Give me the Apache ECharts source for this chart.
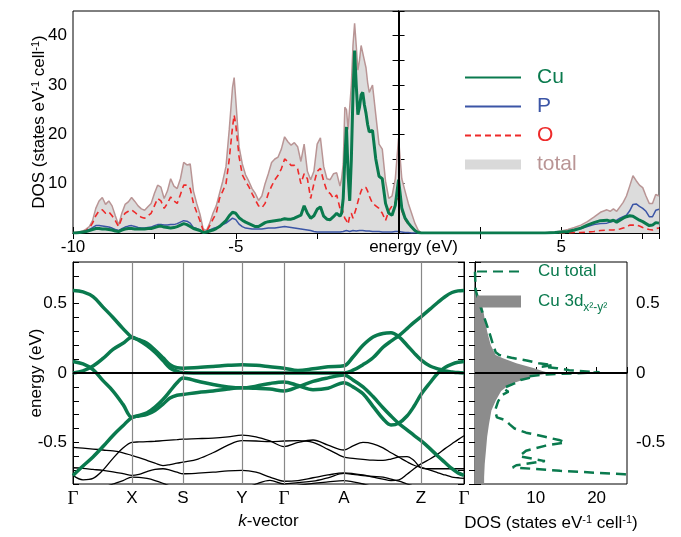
<!DOCTYPE html>
<html>
<head>
<meta charset="utf-8">
<script src="https://cdn.jsdelivr.net/npm/echarts@6/dist/echarts.min.js"></script>
<style>html,body{margin:0;padding:0;background:#fff}#main{width:681px;height:537px}</style>
</head>
<body>
<div id="main"></div>
<script>
// ---- top panel: projected DOS vs energy ----
var eTop = [-10, -9.9, -9.8, -9.7, -9.6, -9.5, -9.4, -9.3, -9.2, -9.1,
  -9.0, -8.9, -8.8, -8.7, -8.6, -8.5, -8.4, -8.3, -8.2, -8.1,
  -8.0, -7.9, -7.8, -7.7, -7.6, -7.5, -7.4, -7.3, -7.2, -7.1,
  -7.0, -6.9, -6.8, -6.7, -6.6, -6.5, -6.4, -6.3, -6.2, -6.1,
  -6.0, -5.9, -5.8, -5.7, -5.6, -5.5, -5.4, -5.3, -5.2, -5.1,
  -5.05,
  -5.0, -4.9, -4.8, -4.7, -4.6, -4.5, -4.4, -4.3, -4.2, -4.1,
  -4.0, -3.9, -3.8, -3.7, -3.6, -3.5, -3.4, -3.3, -3.2, -3.1,
  -3.0, -2.9, -2.8, -2.7, -2.6, -2.5, -2.4, -2.3, -2.2, -2.1,
  -2.0, -1.9, -1.8,
  -1.75, -1.7, -1.65, -1.6, -1.55, -1.5, -1.45, -1.4, -1.35, -1.3, -1.25, -1.2, -1.15, -1.1, -1.05, -1.0, -0.95, -0.9,
  -0.8, -0.7, -0.6, -0.5, -0.4, -0.3, -0.2, -0.1, 0.0, 0.1, 0.2, 0.3, 0.4, 0.5, 0.6, 0.7,
  1.0, 4.0, 4.5,
  4.8, 5.0, 5.2, 5.4, 5.6, 5.8, 6.0, 6.2, 6.4,
  6.5, 6.6, 6.7, 6.8, 6.9, 7.0, 7.1, 7.2, 7.3, 7.4, 7.5, 7.6, 7.7, 7.8, 7.9, 8.0];

var totalDos = [0, 0.2, 0.2, 0.4, 0.8, 1.3, 2.5, 5.0, 6.5, 7.2,
  5.8, 6.5, 5.5, 3.5, 1.6, 4.0, 5.8, 6.3, 7.2, 6.4,
  5.5, 4.9, 4.6, 5.3, 6.0, 8.0, 9.7, 9.3, 7.0, 8.5,
  11.0, 9.5, 9.0, 11.0, 14.3, 13.8, 14.0, 8.5, 6.0, 3.8,
  0.8, 0.5, 2.0, 4.0, 5.5, 8.0, 10.5, 13.5, 21.0, 29.5,
  31.5,
  27.0, 17.5, 14.0, 11.8, 10.5, 9.0, 8.0, 6.6, 7.5, 10.0,
  12.0, 14.3, 15.0, 15.4, 17.0, 19.5, 18.5, 17.8, 18.3, 17.5,
  14.5, 18.0, 12.5, 10.8, 12.5, 18.0, 19.3, 13.5, 11.0, 10.8,
  12.0, 12.2, 9.5,
  11.0, 14.0, 25.5, 25.0, 21.0, 21.0, 30.0, 38.0, 42.5, 38.0, 33.0, 35.0, 38.0, 38.0, 35.0, 33.5, 30.5, 28.5,
  30.0, 24.0, 18.0, 17.0, 10.5, 7.0, 7.5, 11.0, 19.2, 11.0, 8.5, 6.0, 4.0, 2.0, 0.6, 0,
  0, 0, 0,
  0.2, 0.4, 0.7, 1.1, 1.6, 2.3, 3.2, 4.2, 4.7,
  4.4, 4.9, 4.4, 5.3, 6.2, 7.5, 9.5, 11.6, 10.6, 9.7, 9.2, 7.5, 6.0, 6.0, 7.8, 7.5];

var oDos = [0, 0, 0.1, 0.2, 0.5, 1.0, 2.0, 3.5, 4.5, 4.7,
  4.0, 4.3, 3.5, 2.5, 1.3, 3.0, 4.0, 4.4, 4.7, 4.2,
  3.6, 3.2, 3.0, 3.5, 4.0, 5.5, 7.0, 6.5, 5.0, 6.0,
  7.3, 6.5, 6.0, 7.8, 9.7, 9.7, 9.0, 6.0, 4.2, 2.5,
  0.5, 0.3, 1.5, 2.8, 4.0, 7.0, 8.5, 10.0, 15.0, 21.5,
  23.9,
  22.0, 15.5, 11.8, 10.5, 9.4, 8.0, 6.7, 5.5, 5.1, 6.0,
  8.0, 9.5, 10.8, 11.7, 13.0, 15.0, 14.5, 13.7, 13.7, 13.0,
  10.0, 12.0, 11.0, 7.0, 10.0, 12.5, 13.1, 10.5, 8.5, 8.0,
  7.0, 7.7, 5.0,
  5.5, 4.0, 3.0, 2.5, 1.8, 3.5, 4.0, 3.0, 3.0, 5.0, 6.3, 7.5, 8.5, 9.2, 9.4, 9.2, 8.5, 7.5,
  6.0, 5.5, 5.0, 4.0, 2.5, 4.5, 5.5, 6.3, 7.3, 4.5, 2.8, 1.8, 1.2, 0.6, 0.2, 0,
  0, 0, 0,
  0, 0, 0, 0.1, 0.1, 0.2, 0.3, 0.5, 0.6,
  0.6, 0.6, 0.7, 0.8, 1.0, 1.2, 1.6, 1.6, 1.6, 1.4, 1.1, 0.9, 0.7, 0.6, 0.9, 1.0];

var cuDos = [0, 0, 0.1, 0.2, 0.3, 0.5, 0.7, 0.9, 0.9, 0.8,
  0.8, 0.7, 0.6, 0.4, 0.3, 0.6, 0.8, 0.9, 0.9, 0.8,
  0.8, 0.8, 0.8, 0.9, 0.9, 1.1, 1.3, 1.4, 1.2, 1.1,
  1.0, 1.1, 1.3, 1.6, 1.9, 1.7, 1.3, 0.9, 0.7, 0.5,
  0.1, 0.2, 0.4, 0.6, 0.9, 1.3, 1.9, 2.5, 3.5, 4.2,
  4.3,
  4.0, 3.1, 2.6, 2.2, 1.9, 1.6, 1.3, 1.3, 1.7, 2.1,
  2.3, 2.4, 2.5, 2.6, 2.7, 2.9, 2.8, 2.8, 3.0, 3.3,
  3.6, 5.5, 4.0, 3.0, 3.5, 4.8, 5.3, 3.4, 2.8, 2.7,
  3.3, 4.0, 3.4,
  4.0, 7.0, 15.0, 21.5, 12.0, 6.5, 15.0, 28.0, 37.0, 30.0, 24.0, 25.5, 28.0, 28.5, 26.0, 24.3, 22.0, 20.5,
  20.8, 15.0, 11.5, 11.0, 6.0, 4.0, 3.6, 5.6, 10.8, 5.0, 3.0, 2.0, 1.2, 0.5, 0.1, 0,
  0, 0, 0,
  0.1, 0.2, 0.3, 0.6, 1.0, 1.6, 2.1, 2.5, 2.6,
  2.4, 2.6, 2.2, 2.6, 3.0, 3.3, 3.5, 3.4, 3.0, 2.6, 2.3, 1.9, 1.5, 1.6, 2.1, 2.0];

var pDos = [0, 0, 0.1, 0.2, 0.4, 0.7, 1.1, 1.5, 1.5, 1.4,
  1.3, 1.2, 1.0, 0.7, 0.5, 0.9, 1.2, 1.4, 1.5, 1.3,
  1.1, 1.0, 1.0, 1.1, 1.2, 1.5, 1.7, 1.7, 1.6, 1.6,
  1.7, 1.7, 1.9, 2.2, 2.5, 2.4, 2.0, 1.1, 0.9, 0.6,
  0.1, 0.3, 0.6, 0.9, 1.1, 1.4, 1.7, 2.0, 2.5, 3.0,
  3.0,
  2.7, 1.8, 1.3, 1.0, 0.9, 0.8, 0.8, 0.8, 0.8, 0.9,
  1.0, 1.0, 1.0, 1.1, 1.2, 1.3, 1.2, 1.1, 1.0, 0.9,
  0.8, 0.7, 0.6, 0.5, 0.3, 0.2, 0.2, 0.2, 0.2, 0.2,
  0.2, 0.2, 0.2,
  0.2, 0.3, 0.4, 0.5, 0.4, 0.3, 0.4, 0.5, 0.5, 0.4, 0.4, 0.5, 0.5, 0.5, 0.5, 0.4, 0.4, 0.4,
  0.3, 0.3, 0.3, 0.2, 0.2, 0.2, 0.2, 0.3, 0.3, 0.2, 0.1, 0.1, 0, 0, 0, 0,
  0, 0, 0,
  0.1, 0.2, 0.3, 0.6, 0.9, 1.3, 1.7, 1.9, 2.0,
  2.2, 2.4, 2.6, 3.0, 3.3, 3.6, 4.5, 5.8, 5.9, 5.4, 5.0, 4.4, 3.3, 3.3, 4.6, 4.8];

// ---- bottom left: band structure along the k path ----
var kTicks = [0, 59, 110, 169, 211, 271, 348, 391];
var kLabels = ['Γ', 'X', 'S', 'Y', 'Γ', 'A', 'Z', 'Γ'];
var kGrid = [0, 10, 20, 30, 40, 50, 59, 66, 74, 82, 90, 97, 104, 110, 125, 140, 155, 169, 183, 197,
  211, 225, 240, 255, 271, 280, 290, 300, 310, 318, 326, 334, 341, 348, 357, 365, 372, 379, 385, 391];

var bandA = [0.595, 0.585, 0.55, 0.475, 0.40, 0.32, 0.257, 0.24, 0.214, 0.165, 0.11, 0.06, 0.038, 0.035, 0.04, 0.047, 0.055, 0.06, 0.055, 0.045,
  0.035, 0.018, 0.03, 0.045, 0.052, 0.115, 0.20, 0.26, 0.285, 0.29, 0.26, 0.20, 0.145, 0.095, 0.05, 0.03, 0.015, 0.008, 0.003, 0.0];
var bandB = [0.083, 0.065, 0.025, -0.055, -0.13, -0.226, -0.32, -0.305, -0.286, -0.245, -0.19, -0.131, -0.07, -0.036, -0.06, -0.083, -0.10, -0.107, -0.095, -0.075,
  -0.064, -0.09, -0.12, -0.11, -0.07, -0.10, -0.15, -0.24, -0.33, -0.375, -0.36, -0.31, -0.24, -0.155, -0.07, 0.0, 0.04, 0.064, 0.077, 0.083];
var bandC = [0.0, 0.015, 0.05, 0.105, 0.17, 0.214, 0.257, 0.235, 0.198, 0.15, 0.09, 0.036, 0.012, 0.003, 0.0, 0.0, 0.0, 0.0, 0.0, 0.0,
  0.0, 0.0, 0.0, 0.0, 0.0, 0.02, 0.06, 0.11, 0.185, 0.23, 0.27, 0.32, 0.365, 0.405, 0.46, 0.51, 0.55, 0.58, 0.592, 0.595];
var bandD = [-0.738, -0.67, -0.605, -0.53, -0.45, -0.38, -0.32, -0.31, -0.298, -0.27, -0.225, -0.18, -0.16, -0.155, -0.14, -0.13, -0.115, -0.107, -0.11, -0.115,
  -0.13, -0.10, -0.06, -0.035, -0.015, -0.05, -0.10, -0.17, -0.25, -0.31, -0.365, -0.41, -0.45, -0.488, -0.545, -0.60, -0.645, -0.69, -0.72, -0.738];

var black1 = [-0.738, -0.77, -0.76, -0.70, -0.615, -0.54, -0.50, -0.497, -0.495, -0.492, -0.488, -0.484, -0.48, -0.476, -0.473, -0.469, -0.46, -0.448, -0.46, -0.49,
  -0.53, -0.50, -0.483, -0.52, -0.555, -0.525, -0.50, -0.51, -0.54, -0.575, -0.607, -0.64, -0.665, -0.68, -0.70, -0.72, -0.735, -0.75, -0.755, -0.76];
var black2 = [-0.536, -0.542, -0.548, -0.555, -0.562, -0.575, -0.595, -0.61, -0.63, -0.65, -0.667, -0.66, -0.65, -0.643, -0.62, -0.575, -0.52, -0.488, -0.49, -0.495,
  -0.49, -0.488, -0.50, -0.55, -0.607, -0.615, -0.622, -0.628, -0.63, -0.62, -0.605, -0.602, -0.63, -0.683, -0.69, -0.69, -0.69, -0.69, -0.69, -0.69];
var black3 = [-0.683, -0.688, -0.695, -0.702, -0.712, -0.725, -0.738, -0.73, -0.71, -0.695, -0.69, -0.70, -0.715, -0.726, -0.722, -0.715, -0.705, -0.702, -0.715, -0.75,
  -0.78, -0.775, -0.755, -0.735, -0.72, -0.725, -0.735, -0.75, -0.765, -0.775, -0.77, -0.73, -0.69, -0.655, -0.62, -0.583, -0.545, -0.51, -0.48, -0.452];
var black4 = [-0.86, -0.855, -0.845, -0.825, -0.80, -0.775, -0.75, -0.752, -0.76, -0.775, -0.795, -0.815, -0.83, -0.84, -0.86, -0.86, -0.85, -0.84, -0.80, -0.774,
  -0.80, -0.79, -0.78, -0.755, -0.724, -0.73, -0.74, -0.745, -0.75, -0.765, -0.78, -0.80, -0.815, -0.83, -0.84, -0.85, -0.86, -0.86, -0.86, -0.86];
var black5 = [-0.86, -0.86, -0.86, -0.86, -0.86, -0.86, -0.86, -0.86, -0.86, -0.86, -0.86, -0.86, -0.86, -0.86, -0.86, -0.86, -0.86, -0.86, -0.86, -0.84,
  -0.82, -0.81, -0.795, -0.785, -0.775, -0.785, -0.80, -0.82, -0.84, -0.86, -0.86, -0.86, -0.86, -0.86, -0.86, -0.86, -0.86, -0.86, -0.86, -0.86];

// ---- bottom right: Cu DOS near the Fermi level ----
var eCuTot = [0.73, 0.60, 0.49, 0.39, 0.30, 0.20, 0.15, 0.13, 0.11, 0.09, 0.07, 0.057, 0.045, 0.035, 0.02, 0.005,
  -0.01, -0.025, -0.035, -0.05, -0.075, -0.11, -0.135, -0.16, -0.205, -0.27, -0.32, -0.34, -0.37, -0.40, -0.43,
  -0.46, -0.485, -0.50, -0.525, -0.56, -0.60, -0.635, -0.665, -0.68, -0.705, -0.73, -0.75];
var cuTot = [0, 0.1, 0.8, 1.6, 2.3, 3.0, 3.4, 4.0, 6.0, 8.5, 10.5, 12.8, 11.0, 13.5, 15.5, 20.5,
  11.8, 8.5, 9.0, 7.5, 6.5, 4.6, 5.5, 4.4, 3.8, 3.3, 3.6, 5.0, 5.7, 6.5, 8.4,
  11.5, 14.0, 14.8, 11.5, 8.4, 7.3, 11.5, 6.8, 6.2, 14.0, 24.6, 27];
var eD3 = [0.60, 0.49, 0.39, 0.30, 0.20, 0.13, 0.107, 0.07, 0.036, 0.012, 0.0, -0.024, -0.048, -0.083,
  -0.13, -0.20, -0.27, -0.37, -0.46, -0.56, -0.655, -0.75, -0.80];
var d3Dos = [0, 1.2, 1.6, 2.0, 2.6, 3.4, 4.6, 6.8, 9.6, 11.2, 12.3, 9.6, 7.9, 5.7,
  4.3, 3.4, 2.7, 2.3, 2.0, 1.8, 1.6, 1.5, 1.5];

var green = '#0a7a4e';
var font = 'Liberation Sans, Arial, sans-serif';

function pairs(xs, ys) {
  return xs.map(function (x, i) { return [x, ys[i]]; });
}
function swapPairs(es, ds) {
  return es.map(function (e, i) { return [ds[i], e]; });
}

var chart = echarts.init(document.getElementById('main'));

var frameAxis = { lineStyle: { color: '#000', width: 1 } };
var tickIn = { inside: true, length: 6, lineStyle: { color: '#000' } };
var supRich = {
  sup: { fontSize: 11, fontFamily: font, verticalAlign: 'top', padding: [0, 0, 7, 0], color: '#000' }
};

function bandSeries(name, vals, color, width, z) {
  return {
    name: name, type: 'line', xAxisIndex: 2, yAxisIndex: 2,
    data: pairs(kGrid, vals), symbol: 'none', smooth: 0.35, z: z,
    lineStyle: { color: color, width: width }, silent: true
  };
}

var option = {
  animation: false,
  backgroundColor: '#fff',
  textStyle: { fontFamily: font },
  grid: [
    { left: 73, top: 11, width: 586, height: 222, show: true, borderColor: '#000', borderWidth: 1 },
    { left: 73, top: 262, width: 391, height: 222, show: true, borderColor: '#000', borderWidth: 1 },
    { left: 475, top: 262, width: 152, height: 222, show: true, borderColor: '#000', borderWidth: 1 }
  ],
  legend: [
    {
      left: 464, top: 67, orient: 'vertical', itemWidth: 56, itemHeight: 10, itemGap: 8,
      padding: 0,
      itemStyle: { opacity: 0 },
      textStyle: { fontSize: 21, fontFamily: font, padding: [0, 0, 0, 11] },
      data: [
        { name: 'Cu', textStyle: { color: green } },
        { name: 'P', textStyle: { color: '#3b55a6' } },
        { name: 'O', textStyle: { color: '#ee2a2a' } },
        { name: 'total', icon: 'rect', itemStyle: { color: '#d9d9d9', opacity: 1 }, lineStyle: { width: 0 },
          textStyle: { color: '#b99595' } }
      ]
    },
    {
      left: 476, top: 263, orient: 'vertical', itemWidth: 44, itemHeight: 12, itemGap: 13,
      padding: 0,
      itemStyle: { opacity: 0 },
      textStyle: {
        fontSize: 17, fontFamily: font, color: green, padding: [0, 0, 0, 12],
        rich: {
          n: { fontSize: 17, fontFamily: font, color: green },
          s: { fontSize: 12, fontFamily: font, color: green, verticalAlign: 'bottom', padding: [12, 0, 0, 0] }
        }
      },
      formatter: function (name) {
        return name === 'Cu total' ? name : '{n|Cu 3d}{s|x²-y²}';
      },
      data: [
        { name: 'Cu total' },
        { name: 'Cu 3d', icon: 'rect', itemStyle: { color: '#8c8c8c', opacity: 1 } }
      ]
    }
  ],
  xAxis: [
    {
      gridIndex: 0, type: 'value', min: -10, max: 8, interval: 2.5,
      axisLine: frameAxis, axisTick: tickIn, splitLine: { show: false },
      axisLabel: {
        fontSize: 17, color: '#000', fontFamily: font, margin: 6,
        formatter: function (v) {
          if (v === 0) return '{e|energy (eV)}';
          return (v === -10 || v === -5 || v === 5) ? String(v) : '';
        },
        rich: { e: { fontSize: 17, fontFamily: font, color: '#000', padding: [0, 0, 0, 30] } }
      }
    },
    {
      gridIndex: 0, type: 'value', position: 'top', min: -10, max: 8, interval: 2.5,
      axisLine: frameAxis, axisTick: tickIn, axisLabel: { show: false }, splitLine: { show: false }
    },
    {
      gridIndex: 1, type: 'value', min: 0, max: 391,
      name: '{i|k}-vector', nameLocation: 'middle', nameGap: 29, nameMoveOverlap: false,
      nameTextStyle: {
        fontSize: 17, color: '#000', fontFamily: font,
        rich: { i: { fontSize: 17, fontStyle: 'italic', fontFamily: font, color: '#000' } }
      },
      axisLine: frameAxis, axisTick: { show: false }, splitLine: { show: false },
      axisLabel: {
        customValues: kTicks, fontSize: 17, color: '#000', margin: 6,
        formatter: function (v) {
          var lab = kLabels[kTicks.indexOf(v)] || '';
          return lab === 'Γ' ? '{g|Γ}' : lab;
        },
        rich: { g: { fontSize: 19, fontFamily: 'Liberation Serif, DejaVu Serif, serif', color: '#000' } }
      }
    },
    {
      gridIndex: 2, type: 'value', min: 0, max: 25, interval: 5,
      name: 'DOS (states eV{sup|-1} cell{sup|-1})', nameLocation: 'middle', nameGap: 30, nameMoveOverlap: false,
      nameTextStyle: { fontSize: 17, color: '#000', fontFamily: font, rich: supRich },
      axisLine: frameAxis, axisTick: tickIn, splitLine: { show: false },
      axisLabel: {
        fontSize: 17, color: '#000', margin: 6,
        formatter: function (v) { return (v === 10 || v === 20) ? String(v) : ''; }
      }
    }
  ],
  yAxis: [
    {
      gridIndex: 0, type: 'value', min: 0, max: 45, interval: 5,
      name: 'DOS (states eV{sup|-1} cell{sup|-1})', nameLocation: 'middle', nameGap: 25, nameMoveOverlap: false,
      nameTextStyle: { fontSize: 17, color: '#000', fontFamily: font, rich: supRich },
      axisLine: frameAxis, axisTick: tickIn, splitLine: { show: false },
      axisLabel: {
        fontSize: 17, color: '#000', margin: 6,
        formatter: function (v) { return (v > 0 && v % 10 === 0) ? String(v) : ''; }
      }
    },
    {
      gridIndex: 0, type: 'value', position: 'right', min: 0, max: 45, interval: 5,
      axisLine: frameAxis, axisTick: tickIn, axisLabel: { show: false }, splitLine: { show: false }
    },
    {
      gridIndex: 1, type: 'value', min: -0.8, max: 0.8, interval: 0.1,
      name: 'energy (eV)', nameLocation: 'middle', nameGap: 28, nameMoveOverlap: false,
      nameTextStyle: { fontSize: 17, color: '#000', fontFamily: font },
      axisLine: frameAxis, axisTick: tickIn, splitLine: { show: false },
      axisLabel: {
        fontSize: 17, color: '#000', margin: 6,
        formatter: function (v) {
          var h = Math.round(v * 2);
          return Math.abs(v * 2 - h) < 1e-6 ? String(h / 2) : '';
        }
      }
    },
    {
      gridIndex: 1, type: 'value', position: 'right', min: -0.8, max: 0.8, interval: 0.1,
      axisLine: frameAxis, axisTick: tickIn, axisLabel: { show: false }, splitLine: { show: false }
    },
    {
      gridIndex: 2, type: 'value', position: 'right', min: -0.8, max: 0.8, interval: 0.1,
      axisLine: frameAxis, axisTick: tickIn, splitLine: { show: false },
      axisLabel: {
        fontSize: 17, color: '#000', margin: 9,
        formatter: function (v) {
          var h = Math.round(v * 2);
          return Math.abs(v * 2 - h) < 1e-6 ? String(h / 2) : '';
        }
      }
    },
    {
      gridIndex: 2, type: 'value', position: 'left', min: -0.8, max: 0.8, interval: 0.1,
      axisLine: frameAxis, axisTick: tickIn, axisLabel: { show: false }, splitLine: { show: false }
    }
  ],
  series: [
    {
      name: 'total', type: 'line', xAxisIndex: 0, yAxisIndex: 0, z: 1,
      data: pairs(eTop, totalDos), symbol: 'none',
      lineStyle: { color: '#b99595', width: 1.5 },
      itemStyle: { color: '#b99595' },
      areaStyle: { color: '#dcdcdc', opacity: 1 },
      markLine: {
        silent: true, symbol: ['none', 'none'], label: { show: false },
        lineStyle: { color: '#000', width: 2, type: 'solid' },
        data: [{ xAxis: 0 }]
      }
    },
    {
      name: 'O', type: 'line', xAxisIndex: 0, yAxisIndex: 0, z: 2,
      data: pairs(eTop, oDos), symbol: 'none',
      lineStyle: { color: '#ee2a2a', width: 1.6, type: [6, 4] },
      itemStyle: { color: '#ee2a2a' }
    },
    {
      name: 'P', type: 'line', xAxisIndex: 0, yAxisIndex: 0, z: 3,
      data: pairs(eTop, pDos), symbol: 'none',
      lineStyle: { color: '#3b55a6', width: 1.5 },
      itemStyle: { color: '#3b55a6' }
    },
    {
      name: 'Cu', type: 'line', xAxisIndex: 0, yAxisIndex: 0, z: 4,
      data: pairs(eTop, cuDos), symbol: 'none',
      lineStyle: { color: green, width: 3 },
      itemStyle: { color: green }
    },

    bandSeries('k1', black1, '#000', 1.3, 2),
    bandSeries('k2', black2, '#000', 1.3, 2),
    bandSeries('k3', black3, '#000', 1.3, 2),
    bandSeries('k4', black4, '#000', 1.3, 2),
    bandSeries('k5', black5, '#000', 1.3, 2),
    bandSeries('bD', bandD, green, 3.5, 3),
    bandSeries('bB', bandB, green, 3.5, 3),
    bandSeries('bC', bandC, green, 3.5, 3),
    {
      name: 'bA', type: 'line', xAxisIndex: 2, yAxisIndex: 2, z: 3,
      data: pairs(kGrid, bandA), symbol: 'none', smooth: 0.35, silent: true,
      lineStyle: { color: green, width: 3.5 },
      markLine: {
        silent: true, symbol: ['none', 'none'], label: { show: false },
        data: kTicks.slice(1, -1).map(function (k) {
          return { xAxis: k, lineStyle: { color: '#888', width: 1.2, type: 'solid' } };
        }).concat([{ yAxis: 0, lineStyle: { color: '#000', width: 2, type: 'solid' } }])
      }
    },

    {
      name: 'Cu 3d', type: 'custom', xAxisIndex: 3, yAxisIndex: 4, z: 1,
      itemStyle: { color: '#8c8c8c' },
      encode: { x: 0, y: 1 },
      data: swapPairs(eD3, d3Dos),
      renderItem: function (params, api) {
        if (params.dataIndex !== 0) return null;
        var pts = [api.coord([0, eD3[0]])];
        for (var i = 0; i < eD3.length; i++) pts.push(api.coord([d3Dos[i], eD3[i]]));
        pts.push(api.coord([0, eD3[eD3.length - 1]]));
        return { type: 'polygon', shape: { points: pts }, style: { fill: '#8c8c8c' } };
      }
    },
    {
      name: 'Cu total', type: 'line', xAxisIndex: 3, yAxisIndex: 4, z: 3,
      data: swapPairs(eCuTot, cuTot), symbol: 'none',
      lineStyle: { color: green, width: 2.5, type: [10, 6] },
      itemStyle: { color: green },
      markLine: {
        silent: true, symbol: ['none', 'none'], label: { show: false },
        lineStyle: { color: '#000', width: 2, type: 'solid' },
        data: [{ yAxis: 0 }]
      }
    }
  ]
};

chart.setOption(option);
</script>
</body>
</html>
